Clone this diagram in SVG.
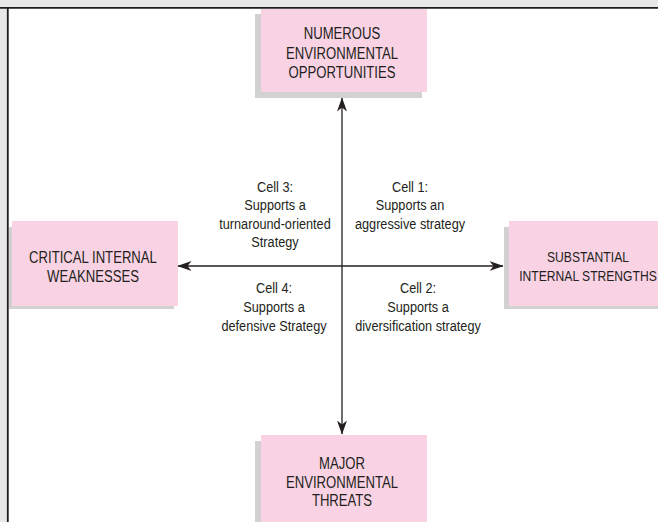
<svg xmlns="http://www.w3.org/2000/svg" width="658" height="522" viewBox="0 0 658 522">
<style>
.box{fill:#f9d3e4}
.sh{fill:#d2d2d2}
.t{font-family:"Liberation Sans",Arial,sans-serif;fill:#231f20;text-anchor:middle}
.bt{font-size:16px}
.ct{font-size:15.5px}
.ln{stroke:#231f20;stroke-width:1.3;fill:none}
</style>
<defs>
<marker id="ah" viewBox="0 0 14 10" refX="13.5" refY="5" markerWidth="14" markerHeight="10" markerUnits="userSpaceOnUse" orient="auto">
<path d="M0,0 L14,5 L0,10 L4,5 Z" fill="#231f20"/>
</marker>
</defs>
<rect x="0" y="0" width="658" height="522" fill="#ffffff"/>
<rect x="0" y="0" width="658" height="8" fill="#e8e8e8"/>
<rect x="0" y="0" width="8" height="522" fill="#e8e8e8"/>
<g id="node-opportunities">
<rect class="sh" x="255" y="14" width="167" height="84"/>
<rect class="box" x="261" y="9" width="166" height="83"/>
<g transform="scale(0.82 1)">
<text class="t bt" x="417.07" y="39">NUMEROUS</text>
<text class="t bt" x="417.07" y="59">ENVIRONMENTAL</text>
<text class="t bt" x="417.07" y="78">OPPORTUNITIES</text>
</g>
</g>
<g id="node-weaknesses">
<rect class="sh" x="9" y="227" width="165" height="82"/>
<rect class="box" x="12" y="221" width="166" height="85"/>
<g transform="scale(0.82 1)">
<text class="t bt" x="113.41" y="263">CRITICAL INTERNAL</text>
<text class="t bt" x="113.41" y="282">WEAKNESSES</text>
</g>
</g>
<g id="node-strengths">
<rect class="sh" x="504" y="227" width="167" height="82"/>
<rect class="box" x="509" y="221" width="166" height="85"/>
<g transform="scale(0.82 1)">
<text class="t" style="font-size:14.8px" x="717.07" y="262">SUBSTANTIAL</text>
<text class="t" style="font-size:14.8px" x="717.07" y="281">INTERNAL STRENGTHS</text>
</g>
</g>
<g id="node-threats">
<rect class="sh" x="255" y="441" width="167" height="90"/>
<rect class="box" x="261" y="435" width="166" height="90"/>
<g transform="scale(0.82 1)">
<text class="t bt" x="417.07" y="469">MAJOR</text>
<text class="t bt" x="417.07" y="488">ENVIRONMENTAL</text>
<text class="t bt" x="417.07" y="506">THREATS</text>
</g>
</g>
<g id="connectors">
<line class="ln" x1="342" y1="266" x2="342" y2="98" marker-end="url(#ah)"/>
<line class="ln" x1="342" y1="266" x2="342" y2="434" marker-end="url(#ah)"/>
<line class="ln" x1="342" y1="266" x2="178" y2="266" marker-end="url(#ah)"/>
<line class="ln" x1="342" y1="266" x2="503" y2="266" marker-end="url(#ah)"/>
</g>
<g id="cell3" transform="scale(0.82 1)">
<text class="t ct" x="335.37" y="192">Cell 3:</text>
<text class="t ct" x="335.37" y="210.5">Supports a</text>
<text class="t ct" x="335.37" y="229">turnaround-oriented</text>
<text class="t ct" x="335.37" y="247.5">Strategy</text>
</g>
<g id="cell1" transform="scale(0.82 1)">
<text class="t ct" x="500" y="192">Cell 1:</text>
<text class="t ct" x="500" y="210.5">Supports an</text>
<text class="t ct" x="500" y="229">aggressive strategy</text>
</g>
<g id="cell4" transform="scale(0.82 1)">
<text class="t ct" x="334.15" y="293">Cell 4:</text>
<text class="t ct" x="334.15" y="312">Supports a</text>
<text class="t ct" x="334.15" y="331">defensive Strategy</text>
</g>
<g id="cell2" transform="scale(0.82 1)">
<text class="t ct" x="509.76" y="293">Cell 2:</text>
<text class="t ct" x="509.76" y="312">Supports a</text>
<text class="t ct" x="509.76" y="331">diversification strategy</text>
</g>
<line x1="0" y1="7.8" x2="658" y2="7.8" stroke="#1e1e1e" stroke-width="1.8"/>
<line x1="7.8" y1="7" x2="7.8" y2="522" stroke="#1e1e1e" stroke-width="1.8"/>
</svg>
